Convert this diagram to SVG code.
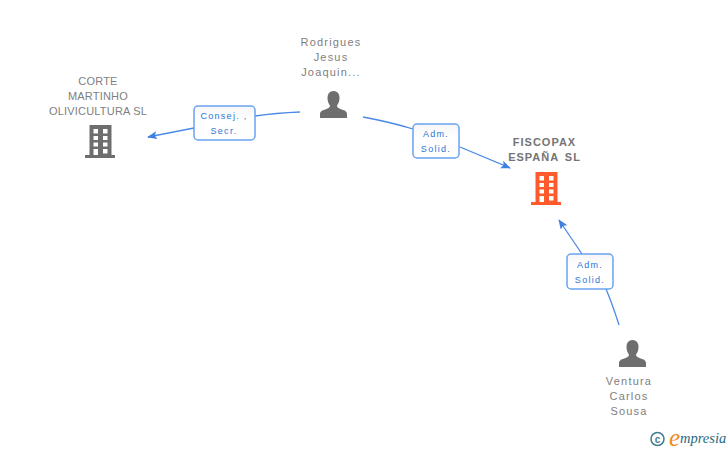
<svg xmlns="http://www.w3.org/2000/svg" width="728" height="450" viewBox="0 0 728 450">
<style>
text{font-family:"Liberation Sans",Arial,sans-serif}
.n{font-size:11px;fill:#808080;text-anchor:middle;letter-spacing:1.200px}
.t{letter-spacing:.2px}
.b{font-size:11px;font-weight:bold;fill:#747474;text-anchor:middle;letter-spacing:1px;word-spacing:2px}
.l{font-size:9px;fill:#2f74d8;text-anchor:middle;letter-spacing:1.300px}
.box{fill:url(#g);stroke:#6aa3ee;stroke-width:1.500}
.c{fill:none;stroke:#4a8ae6;stroke-width:1.300}
.p{fill:#6e6e6e}
</style>
<defs>
<linearGradient id="g" x1="0" y1="0" x2="0" y2="1"><stop offset="0" stop-color="#f6f6f6"/><stop offset=".4" stop-color="#fff"/></linearGradient>
<marker id="a" markerWidth="12" markerHeight="10" refX="9" refY="4" orient="auto" markerUnits="userSpaceOnUse"><path d="M0 0L10 4L0 8L2 4Z" fill="#3f80e2"/></marker>
<path id="bld" fill-rule="evenodd" d="M2.500 0H24.500V30H28V33H-2V30H2.500ZM6.500 4V8.500H11V4ZM16 4V8.500H20.500V4ZM6.500 11V15H11V11ZM16 11V15H20.500V11ZM6.500 17.500V21.500H11V17.500ZM16 17.500V21.500H20.500V17.500ZM6.500 24V30H11V24ZM16 24V28.500H20.500V24Z"/>
<path id="per" d="M13.500 0C17.500 0 19.500 3 19.500 7C19.500 10 18.500 12.500 17 14.500C17 16 18 17 20.500 18C24 19.300 27 20 27 23V27H0V23C0 20 3 19.300 6.500 18C9 17 10 16 10 14.500C8.500 12.500 7.500 10 7.500 7C7.500 3 9.500 0 13.500 0Z"/>
</defs>
<g id="connectors">
<path class="c" d="M300 112Q276 113 255 116"/>
<path class="c" d="M194 128L148 137" marker-end="url(#a)"/>
<path class="c" d="M363 117Q390 122 413 129"/>
<path class="c" d="M460 147L510 168" marker-end="url(#a)"/>
<path class="c" d="M619 325Q612 303 606 289"/>
<path class="c" d="M582 254L559 220" marker-end="url(#a)"/>
</g>
<g id="edge-label-1"><rect class="box" x="194" y="106" width="61" height="34" rx="4"/><text class="l" x="224" y="119">Consej. ,</text><text class="l" x="224" y="134">Secr.</text></g>
<g id="edge-label-2"><rect class="box" x="413" y="124" width="46" height="34" rx="4"/><text class="l" x="436" y="137">Adm.</text><text class="l" x="436" y="152">Solid.</text></g>
<g id="edge-label-3"><rect class="box" x="567" y="254" width="46" height="35" rx="4"/><text class="l" x="590" y="268">Adm.</text><text class="l" x="590" y="283">Solid.</text></g>
<g id="node-corte">
<text class="n t" x="98" y="85">CORTE</text><text class="n t" x="98" y="100">MARTINHO</text><text class="n t" x="98" y="115">OLIVICULTURA SL</text>
<use href="#bld" x="87" y="125" fill="#6e6e6e"/>
</g>
<g id="node-rodrigues">
<text class="n" x="331" y="46">Rodrigues</text><text class="n" x="331" y="61">Jesus</text><text class="n" x="331" y="76">Joaquin...</text>
<use href="#per" class="p" x="320" y="91"/>
</g>
<g id="node-fiscopax">
<text class="b" x="544.500" y="146">FISCOPAX</text><text class="b" x="544.500" y="161">ESPAÑA SL</text>
<use href="#bld" x="533" y="172" fill="#ff5a2b"/>
</g>
<g id="node-ventura">
<use href="#per" class="p" x="619" y="340"/>
<text class="n" x="629" y="385">Ventura</text><text class="n" x="629" y="400">Carlos</text><text class="n" x="629" y="415">Sousa</text>
</g>
<g id="logo">
<circle cx="657.500" cy="439" r="6.500" fill="none" stroke="#3f7d8f" stroke-width="1.500"/>
<text x="657.500" y="442.500" font-size="10" font-weight="bold" fill="#3f7d8f" text-anchor="middle">c</text>
<text x="669" y="446" style="font-family:'Liberation Serif',serif" font-size="25" font-style="italic" fill="#f08a1c">e</text>
<text x="680" y="443" style="font-family:'Liberation Serif',serif" font-size="14.500" font-style="italic" fill="#1f6a80">mpresia</text>
</g>
</svg>
